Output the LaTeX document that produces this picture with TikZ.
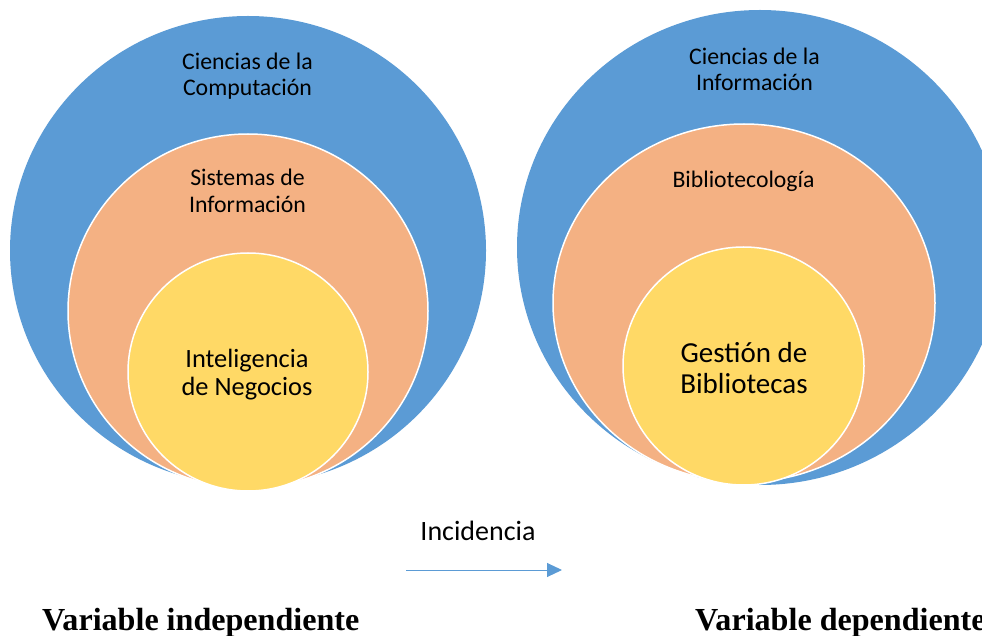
\documentclass[tikz,border=0pt]{standalone}
\usepackage{fontspec}
\setmainfont{Carlito}
\newfontfamily\serifbold{Liberation Serif}
\usetikzlibrary{shapes.geometric,arrows.meta}
\definecolor{ofblue}{HTML}{5B9BD5}
\definecolor{oforange}{HTML}{F4B183}
\definecolor{ofyellow}{HTML}{FFD966}
\tikzset{
  ring/.style={ellipse,inner sep=0pt,outer sep=0pt},
  bluering/.style={ring,fill=ofblue},
  orangering/.style={ring,fill=oforange,draw=white,line width=1.5pt},
  yellowring/.style={ring,fill=ofyellow,draw=white,line width=1.5pt},
  lbl/.style={align=center,inner sep=0pt,text=black},
  varlbl/.style={anchor=base west,inner sep=0pt,font=\serifbold\bfseries\fontsize{32.1}{34}\selectfont},
}
\begin{document}
\begin{tikzpicture}[x=1pt,y=-1pt]
\useasboundingbox (0,0) rectangle (982,636);
% left group
\node[bluering,minimum width=476pt,minimum height=469pt] (lb) at (248,250.5) {};
\node[orangering,minimum width=360pt,minimum height=354pt] (lo) at (248,311) {};
\node[yellowring,minimum width=240pt,minimum height=238pt] (ly) at (248,372) {};
% right group
\node[bluering,minimum width=486pt,minimum height=475pt] (rb) at (760,247.5) {};
\node[orangering,minimum width=382pt,minimum height=358pt] (ro) at (744,303) {};
\node[yellowring,minimum width=241pt,minimum height=238pt] (ry) at (743.5,366) {};
% labels
\node[lbl,font=\fontsize{23.8}{26.5}\selectfont] (tcc) at (247.5,76) {Ciencias de la\\Computación};
\node[lbl,font=\fontsize{23.8}{26.5}\selectfont] (tsi) at (247.5,191) {Sistemas de\\Información};
\node[lbl,font=\fontsize{26.4}{28}\selectfont] (tin) at (247,375) {Inteligencia\\de Negocios};
\node[lbl,font=\fontsize{23.8}{26.5}\selectfont] (tci) at (754.5,69.5) {Ciencias de la\\Información};
\node[lbl,font=\fontsize{23.7}{26}\selectfont] (tbi) at (743.5,181) {Bibliotecología};
\node[lbl,font=\fontsize{29}{31.5}\selectfont] (tgb) at (744,368) {Gestión de\\Bibliotecas};
% arrow
\node[lbl,font=\fontsize{28}{30}\selectfont] (inc) at (478,531) {Incidencia};
\coordinate (a1) at (406,570);
\coordinate (a2) at (562,570);
\draw[ofblue,line width=1pt,-{Triangle[length=15pt,width=14pt]}] (a1) -- (a2);
% bottom labels
\node[varlbl] (vi) at (42,630) {Variable independiente};
\node[varlbl] (vd) at (695,630) {Variable dependiente};
\end{tikzpicture}
\end{document}
